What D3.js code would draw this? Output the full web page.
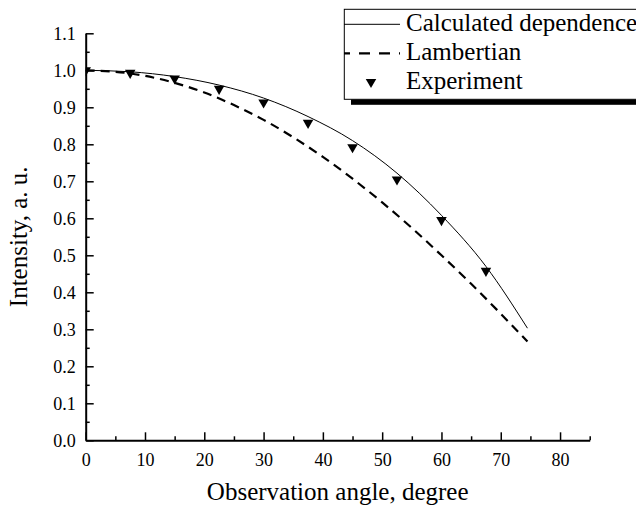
<!DOCTYPE html>
<html lang="en">
<head>
  <meta charset="UTF-8">
  <title>Intensity vs observation angle</title>
  <script src="https://d3js.org/d3.v7.min.js"></script>
  <style>
    body { margin: 0; background: #fff; }
    svg { display: block; font-family: "Liberation Serif", "Times New Roman", serif; }
    .axis path, .axis line { stroke: #000; }
    .axis text { font-size: 18px; fill: #000; font-family: "Liberation Serif", "Times New Roman", serif; }
  </style>
</head>
<body>
  <svg id="chart" width="636" height="506"></svg>
  <script>
    // data
    const calcAngle = [0, 7.5, 15, 22.5, 30, 37.5, 45, 52.5, 60, 67.5, 74.5];
    const calcValue = [1.000, 0.996, 0.983, 0.960, 0.925, 0.875, 0.810, 0.722, 0.608, 0.470, 0.303];

    const lambAngle = [0, 5, 10, 15, 20, 25, 30, 35, 40, 45, 50, 55, 60, 65, 70, 74.5];
    const lambValue = [1.000, 0.996, 0.985, 0.966, 0.940, 0.906, 0.866, 0.819, 0.766, 0.707, 0.643, 0.574, 0.500, 0.423, 0.342, 0.267];

    const expAngle = [0, 7.5, 15, 22.5, 30, 37.5, 45, 52.5, 60, 67.5];
    const expValue = [1.000, 0.993, 0.978, 0.950, 0.913, 0.858, 0.792, 0.705, 0.595, 0.458];

    const xTicks = [0, 10, 20, 30, 40, 50, 60, 70, 80];
    const yTicks = [0, 0.1, 0.2, 0.3, 0.4, 0.5, 0.6, 0.7, 0.8, 0.9, 1.0, 1.1];

    const legendLabels = ["Calculated dependence", "Lambertian", "Experiment"];

    const svg = d3.select("#chart");

    const x = d3.scaleLinear().domain([0, 85]).range([85.7, 589.7]);
    const y = d3.scaleLinear().domain([0, 1.1]).range([440.3, 33.3]);

    // clip to plot area
    svg.append("clipPath").attr("id", "plotClip")
      .append("rect")
      .attr("x", x(0)).attr("y", 0)
      .attr("width", x(85) - x(0)).attr("height", y(0));

    const plot = svg.append("g").attr("clip-path", "url(#plotClip)");

    const toPts = (xs, ys) => xs.map((a, i) => [a, ys[i]]);

    const line = d3.line()
      .x(d => x(d[0]))
      .y(d => y(d[1]))
      .curve(d3.curveMonotoneX);

    plot.append("path")
      .datum(toPts(lambAngle, lambValue))
      .attr("d", line)
      .attr("fill", "none")
      .attr("stroke", "#000")
      .attr("stroke-width", 2.2)
      .attr("stroke-dasharray", "9,6");

    plot.append("path")
      .datum(toPts(calcAngle, calcValue))
      .attr("d", line)
      .attr("fill", "none")
      .attr("stroke", "#000")
      .attr("stroke-width", 1);

    const tri = d3.symbol().type(d3.symbolTriangle).size(48);

    plot.selectAll(".exp")
      .data(toPts(expAngle, expValue))
      .enter().append("path")
      .attr("class", "exp")
      .attr("d", tri)
      .attr("transform", d => `translate(${x(d[0])},${y(d[1])}) rotate(180)`)
      .attr("fill", "#000");

    // axes
    const xAxis = d3.axisBottom(x).tickValues(xTicks).tickSize(-8).tickPadding(13).tickSizeOuter(0);
    const xMinor = d3.axisBottom(x).tickValues([5, 15, 25, 35, 45, 55, 65, 75, 85]).tickSize(-4).tickFormat("").tickSizeOuter(0);
    const yAxis = d3.axisLeft(y).tickValues(yTicks).tickSize(-8).tickPadding(10).tickSizeOuter(0).tickFormat(d3.format(".1f"));
    const yMinor = d3.axisLeft(y).tickValues(d3.range(0.05, 1.1, 0.1)).tickSize(-4).tickFormat("").tickSizeOuter(0);

    svg.append("g").attr("class", "axis").attr("transform", `translate(0,${y(0)})`).call(xMinor)
      .call(g => g.select(".domain").remove())
      .selectAll("line").attr("stroke-width", 1.5);
    svg.append("g").attr("class", "axis").attr("transform", `translate(${x(0)},0)`).call(yMinor)
      .call(g => g.select(".domain").remove())
      .selectAll("line").attr("stroke-width", 1.5);

    const gx = svg.append("g").attr("class", "axis").attr("transform", `translate(0,${y(0)})`).call(xAxis);
    gx.select(".domain").attr("stroke-width", 2);
    gx.selectAll("line").attr("stroke-width", 1.5);

    const gy = svg.append("g").attr("class", "axis").attr("transform", `translate(${x(0)},0)`).call(yAxis);
    gy.select(".domain").attr("stroke-width", 2);
    gy.selectAll("line").attr("stroke-width", 1.5);

    // axis titles
    svg.append("text")
      .attr("x", (x(0) + x(85)) / 2)
      .attr("y", 500)
      .attr("text-anchor", "middle")
      .style("font-size", "25px")
      .text("Observation angle, degree");

    svg.append("text")
      .attr("transform", `translate(27,${(y(0) + y(1.1)) / 2}) rotate(-90)`)
      .attr("text-anchor", "middle")
      .style("font-size", "25px")
      .text("Intensity, a. u.");

    // legend
    const lg = svg.append("g");
    lg.append("rect").attr("x", 351).attr("y", 99.3).attr("width", 300).attr("height", 5.5).attr("fill", "#000");
    lg.append("rect").attr("x", 344.3).attr("y", 9.3).attr("width", 320).attr("height", 90)
      .attr("fill", "#fff").attr("stroke", "#000").attr("stroke-width", 1);

    const rowY = [24.3, 53.3, 82];
    lg.append("line").attr("x1", 344).attr("x2", 400).attr("y1", rowY[0]).attr("y2", rowY[0])
      .attr("stroke", "#000").attr("stroke-width", 1);
    lg.append("line").attr("x1", 344).attr("x2", 400).attr("y1", rowY[1]).attr("y2", rowY[1])
      .attr("stroke", "#000").attr("stroke-width", 2.2).attr("stroke-dasharray", "6,9,11,9,11,9");
    lg.append("path").attr("d", tri).attr("transform", `translate(371,${rowY[2]}) rotate(180)`).attr("fill", "#000");

    lg.selectAll(".lt")
      .data(legendLabels)
      .enter().append("text")
      .attr("class", "lt")
      .attr("x", 406)
      .attr("y", (d, i) => rowY[i] + 7)
      .style("font-size", "25px")
      .text(d => d);
  </script>
</body>
</html>
